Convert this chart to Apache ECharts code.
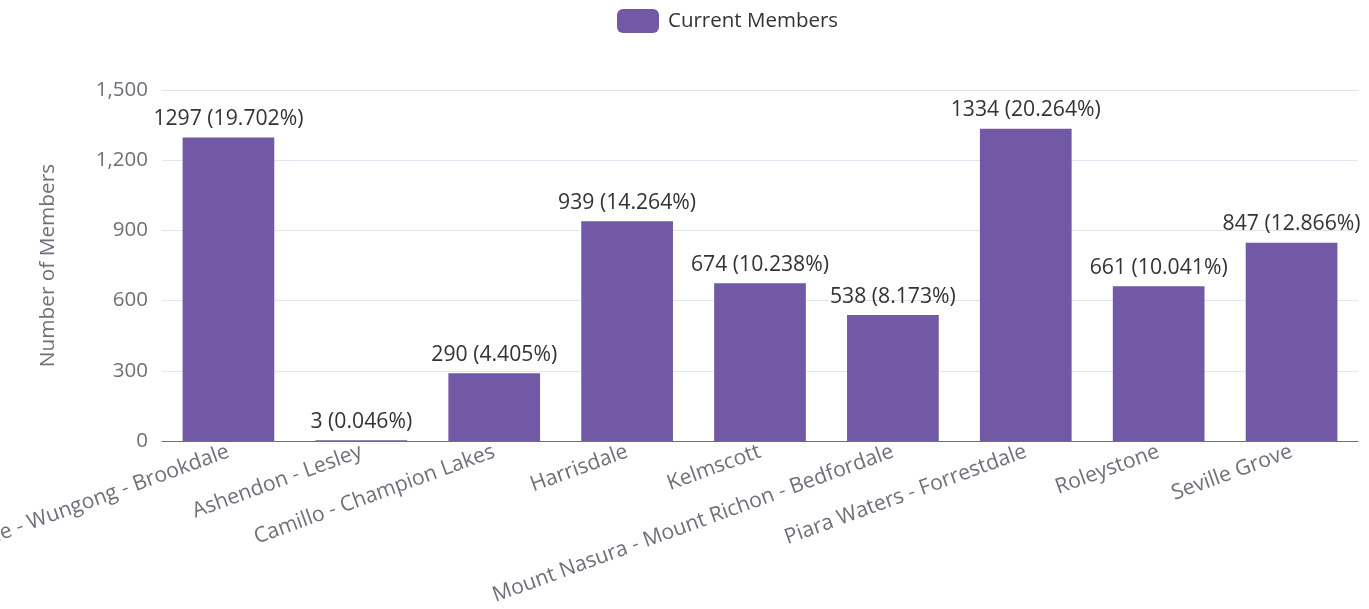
<!DOCTYPE html>
<html>
<head>
<meta charset="utf-8">
<script src="https://cdn.jsdelivr.net/npm/echarts@6/dist/echarts.min.js"></script>
<style>html,body{margin:0;padding:0;background:#fff}#c{width:1369px;height:609px}</style>
</head>
<body>
<div id="c"></div>
<script>
const categories = ["Armadale - Wungong - Brookdale", "Ashendon - Lesley", "Camillo - Champion Lakes", "Harrisdale", "Kelmscott", "Mount Nasura - Mount Richon - Bedfordale", "Piara Waters - Forrestdale", "Roleystone", "Seville Grove"];
const currentMembers = [1297, 3, 290, 939, 674, 538, 1334, 661, 847];
const seriesName = "Current Members";
const yTicks = { min: 0, max: 1500, interval: 300 };

const total = currentMembers.reduce((a, b) => a + b, 0);
const font = "'Open Sans', 'Noto Sans', sans-serif";
const chart = echarts.init(document.getElementById('c'));
chart.setOption({
  textStyle: { fontFamily: font },
  legend: {
    top: 4, left: 612,
    itemWidth: 42, itemHeight: 24, itemGap: 10,
    icon: 'roundRect',
    textStyle: { fontSize: 20.5, color: '#333', fontFamily: font, padding: [0, 0, 0, 4] },
    data: [seriesName]
  },
  grid: { left: 162, right: 11, top: 90, bottom: 168, containLabel: false, outerBoundsMode: 'none' },
  xAxis: {
    type: 'category',
    data: categories,
    axisLine: { lineStyle: { color: '#6e7079' } },
    axisTick: { length: 7, lineStyle: { color: '#6e7079' } },
    axisLabel: { rotate: 20, interval: 0, fontSize: 21.2, color: '#6e7079', margin: 10, fontFamily: font }
  },
  yAxis: {
    type: 'value',
    min: yTicks.min, max: yTicks.max, interval: yTicks.interval,
    name: 'Number of Members',
    nameLocation: 'middle',
    nameGap: 103,
    nameTextStyle: { fontSize: 20.8, color: '#6e7079', fontFamily: font },
    axisLabel: { fontSize: 20.5, color: '#6e7079', margin: 14, fontFamily: font },
    splitLine: { lineStyle: { color: '#e0e6f1' } }
  },
  series: [{
    name: seriesName,
    type: 'bar',
    data: currentMembers,
    barCategoryGap: '31%',
    itemStyle: { color: '#7159a6' },
    label: {
      show: true, position: 'top', fontSize: 21.2, color: '#333', distance: 8, fontFamily: font,
      formatter: p => p.value + ' (' + (p.value / total * 100).toFixed(3) + '%)'
    }
  }]
});
</script>
</body>
</html>
